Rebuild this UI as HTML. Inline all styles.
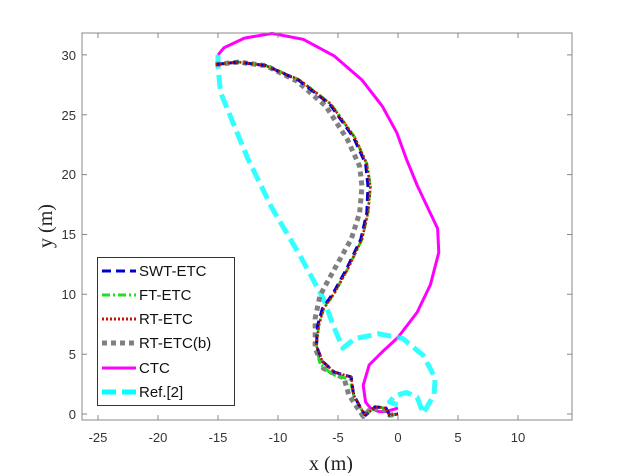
<!DOCTYPE html>
<html><head><meta charset="utf-8"><style>
html,body{margin:0;padding:0;background:#fff;}
svg{display:block;}
</style></head><body>
<svg width="632" height="473" xmlns="http://www.w3.org/2000/svg" font-family="Liberation Sans, sans-serif">
<rect width="632" height="473" fill="#fff"/>
<g transform="translate(398,414) scale(12,-11.97)" fill="none" stroke-linejoin="round" vector-effect="non-scaling-stroke">
<!-- CTC -->
<polyline vector-effect="non-scaling-stroke" stroke="#ff00ff" stroke-width="3" points="0,0.5 -1,0.2 -1.6,0.2 -2.3,0.5 -2.7,1.0 -2.9,2.4 -2.4,4.1 -1.3,5.2 0,6.4 1.6,8.5 2.7,10.8 3.4,13.5 3.3,15.5 2.4,17.4 1.6,19.1 0.7,21.3 -0.1,23.5 -1.3,25.7 -3.0,27.9 -5.3,29.9 -7.9,31.3 -10.5,31.8 -12.8,31.4 -14.5,30.6 -15,30"/>
<!-- Ref[2] -->
<polyline vector-effect="non-scaling-stroke" stroke="#00ffff" stroke-opacity="0.8" stroke-width="5" stroke-dasharray="14,6" points="-15,30 -15,29.1 -14.8,26.9 -13.9,24.7 -12.5,21.3 -10.5,17.2 -8.2,13.3 -6.2,9.6 -5.4,7.4 -4.6,5.5 -3.6,6.3 -1.6,6.7 0.4,6.3 2.1,4.9 3.1,3.0 3.0,1.6 2.1,0.05 1.6,1.4 0.7,1.8 -0.3,1.5 -0.7,1.0 0,0.75"/>
<!-- RT-ETC(b) -->
<polyline vector-effect="non-scaling-stroke" stroke="#808080" stroke-width="5" stroke-dasharray="5,4" points="-15.2,29.2 -13.3,29.4 -11,29.1 -8.4,27.8 -6.0,25.7 -4.2,22.9 -3.2,20.7 -3.0,19 -3.2,16.8 -3.9,14.6 -5.3,12.1 -6.5,9.9 -6.9,8.0 -6.9,5.5 -6.2,3.8 -4.5,3.0 -4.1,1.6 -2.9,-0.2 -2.2,0.5 -1.2,0.4 -0.7,-0.1 0,0"/>
<!-- FT-ETC -->
<polyline vector-effect="non-scaling-stroke" stroke="#22dd22" stroke-width="3" stroke-dasharray="8,3,2,3" points="-15.2,29.2 -13.3,29.4 -11,29.1 -8.2,27.9 -5.6,25.9 -3.6,23.1 -2.6,20.9 -2.3,19.0 -2.5,16.8 -3.0,14.6 -4.2,12.1 -5.3,10.1 -6.2,8.8 -6.6,7.4 -6.8,5.7 -6.5,4.2 -5.5,3.3 -4.0,2.9 -3.7,1.6 -3.0,0.3 -2.7,-0.1 -1.9,0.6 -1.0,0.5 -0.7,-0.1 0,0"/>
<!-- SWT-ETC -->
<polyline vector-effect="non-scaling-stroke" stroke="#0000cc" stroke-width="3" stroke-dasharray="9,5" points="-15.2,29.2 -13.3,29.4 -11,29.1 -8.3,27.9 -5.7,25.9 -3.7,23.1 -2.7,20.9 -2.5,19.0 -2.6,16.8 -3.1,14.6 -4.3,12.1 -5.4,10.1 -6.3,8.8 -6.7,7.4 -6.8,5.7 -6.3,4.4 -5.3,3.5 -3.9,3.1 -3.7,1.6 -3.0,0.3 -2.7,-0.1 -1.9,0.6 -1.0,0.5 -0.7,-0.1 0,0"/>
<!-- RT-ETC -->
<polyline vector-effect="non-scaling-stroke" stroke="#cc1100" stroke-width="2.5" stroke-dasharray="2,2" points="-15.2,29.2 -13.3,29.4 -11,29.1 -8.2,27.9 -5.6,25.9 -3.6,23.1 -2.6,20.9 -2.3,19.0 -2.5,16.8 -3.0,14.6 -4.2,12.1 -5.3,10.1 -6.2,8.8 -6.6,7.4 -6.8,5.7 -6.3,4.4 -5.3,3.5 -3.9,3.1 -3.7,1.6 -3.0,0.3 -2.7,-0.1 -1.9,0.6 -1.0,0.5 -0.7,-0.1 0,0"/>
</g>
<!-- axes box -->
<rect x="82" y="33" width="490" height="387" fill="none" stroke="#888" stroke-width="1"/>
<g stroke="#888" stroke-width="1">
<path d="M98,420v-5M158,420v-5M218,420v-5M278,420v-5M338,420v-5M398,420v-5M458,420v-5M518,420v-5"/>
<path d="M98,33v5M158,33v5M218,33v5M278,33v5M338,33v5M398,33v5M458,33v5M518,33v5"/>
<path d="M82,414h5M82,354.2h5M82,294.3h5M82,234.5h5M82,174.6h5M82,114.8h5M82,54.9h5"/>
<path d="M572,414h-5M572,354.2h-5M572,294.3h-5M572,234.5h-5M572,174.6h-5M572,114.8h-5M572,54.9h-5"/>
</g>
<g font-size="13" fill="#333" text-anchor="middle">
<text x="98" y="442">-25</text><text x="158" y="442">-20</text><text x="218" y="442">-15</text><text x="278" y="442">-10</text><text x="338" y="442">-5</text><text x="398" y="442">0</text><text x="458" y="442">5</text><text x="518" y="442">10</text>
</g>
<g font-size="13" fill="#333" text-anchor="end">
<text x="76" y="419">0</text><text x="76" y="359">5</text><text x="76" y="299">10</text><text x="76" y="239">15</text><text x="76" y="179">20</text><text x="76" y="120">25</text><text x="76" y="60">30</text>
</g>
<text x="331" y="470" font-family="Liberation Serif, serif" font-size="20" text-anchor="middle" fill="#222">x (m)</text>
<text transform="translate(52,226) rotate(-90)" font-family="Liberation Serif, serif" font-size="20" text-anchor="middle" fill="#222">y (m)</text>
<!-- legend -->
<rect x="97.5" y="257.5" width="137" height="148" fill="#fff" stroke="#333" stroke-width="1"/>
<g stroke-width="3">
<line x1="102" y1="271" x2="136" y2="271" stroke="#0000cc" stroke-dasharray="9,5"/>
<line x1="102" y1="295" x2="136" y2="295" stroke="#22dd22" stroke-dasharray="8,3,2,3"/>
<line x1="102" y1="319" x2="136" y2="319" stroke="#cc1100" stroke-dasharray="2,2"/>
<line x1="102" y1="343" x2="136" y2="343" stroke="#808080" stroke-width="5" stroke-dasharray="5,4"/>
<line x1="102" y1="368" x2="136" y2="368" stroke="#ff00ff"/>
<line x1="102" y1="392" x2="136" y2="392" stroke="#00ffff" stroke-width="5" stroke-dasharray="14,6"/>
</g>
<g font-size="15" fill="#111">
<text x="139" y="276">SWT-ETC</text>
<text x="139" y="300">FT-ETC</text>
<text x="139" y="324">RT-ETC</text>
<text x="139" y="348">RT-ETC(b)</text>
<text x="139" y="373">CTC</text>
<text x="139" y="397">Ref.[2]</text>
</g>
</svg>
</body></html>
